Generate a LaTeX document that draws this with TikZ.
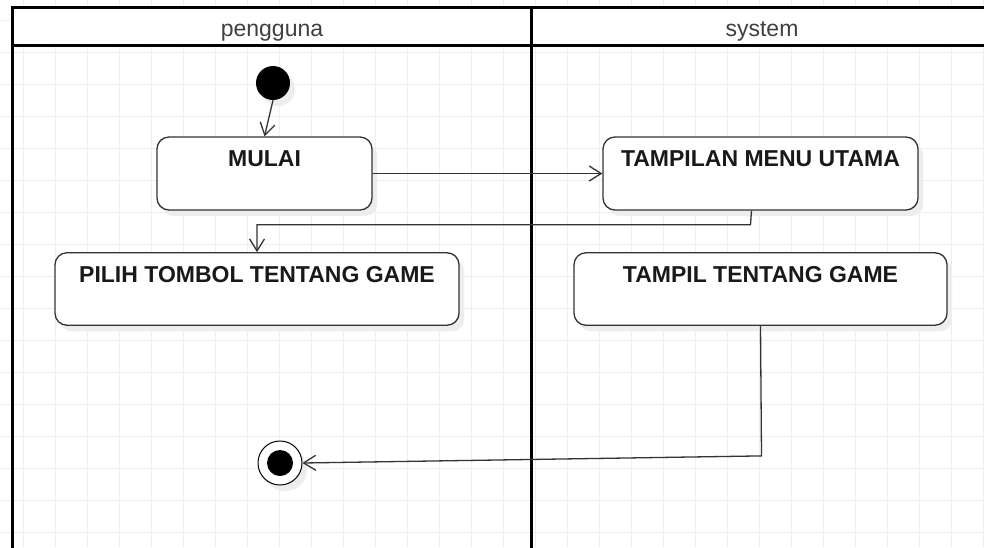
\documentclass[tikz,border=0pt]{standalone}
\usepackage{fontspec}
\setmainfont{Liberation Sans}
\usetikzlibrary{arrows.meta,shadows}
\definecolor{gridc}{HTML}{EEEEEE}
\definecolor{ink}{HTML}{333333}
\tikzset{
  act/.style={draw=ink, line width=1.3pt, rounded corners=12pt, fill=white, inner sep=0pt,
    font=\fontsize{23}{27}\selectfont\bfseries, text=black!90,
    text height=29.5pt, text depth=43pt,
    drop shadow={shadow xshift=5pt, shadow yshift=-6pt, fill=black!7, opacity=1}},
  lanehead/.style={font=\fontsize{23}{27}\selectfont, text=black!75, anchor=base, inner sep=0pt},
  initnode/.style={circle, fill=black, minimum size=34pt, inner sep=0pt,
    drop shadow={shadow xshift=5pt, shadow yshift=-6pt, fill=black!7, opacity=1}},
  finalnode/.style={circle, draw=black, line width=1pt, fill=white, minimum size=44pt, inner sep=0pt,
    drop shadow={shadow xshift=5pt, shadow yshift=-6pt, fill=black!7, opacity=1}},
  finaldot/.style={circle, fill=black, minimum size=26pt, inner sep=0pt},
  flow/.style={draw=ink, line width=1.3pt, -{Straight Barb[length=12pt,width=15pt]}},
  frame/.style={draw=black, line width=3pt},
}
\begin{document}
\begin{tikzpicture}[x=1pt, y=-1pt]
\useasboundingbox (0,0) rectangle (984,547);
\fill[white] (0,0) rectangle (984,547);
% grid
\foreach \x in {23,55,...,983} \draw[gridc, line width=1pt] (\x,0) -- (\x,547);
\foreach \y in {20,52,...,546} \draw[gridc, line width=1pt] (0,\y) -- (984,\y);
% swimlanes
\fill[white] (12,7.5) rectangle (990,45.5);
\draw[frame] (990,7.5) -- (12,7.5) -- (12,552);
\draw[frame] (12,45.5) -- (990,45.5);
\draw[frame] (531,7.5) -- (531,552);
\node[lanehead] (h1) at (272,36.5) {pengguna};
\node[lanehead] (h2) at (762,36.5) {system};
% nodes
\node[initnode] (init) at (273,83) {};
\node[act, minimum width=215pt, minimum height=73pt] (mulai) at (264.5,173.5) {MULAI};
\node[act, minimum width=315pt, minimum height=73pt] (menu) at (760.5,173.5) {TAMPILAN MENU UTAMA};
\node[act, minimum width=404pt, minimum height=72pt] (pilih) at (257,289) {PILIH TOMBOL TENTANG GAME};
\node[act, minimum width=373pt, minimum height=72pt] (tentang) at (760.5,289) {TAMPIL TENTANG GAME};
\node[finalnode] (final) at (280,463) {};
\node[finaldot] (finaldot) at (final.center) {};
% connectors
\draw[flow] (init.south) -- (mulai.north);
\draw[flow] (mulai.east) -- (menu.west);
\draw[flow] ([xshift=-9pt]menu.south) -- ++(-1,14) coordinate (c1) -| (pilih.north);
\draw[flow] (tentang.south) -- ++(1,130) coordinate (c2) -- (final.east);
\end{tikzpicture}
\end{document}
